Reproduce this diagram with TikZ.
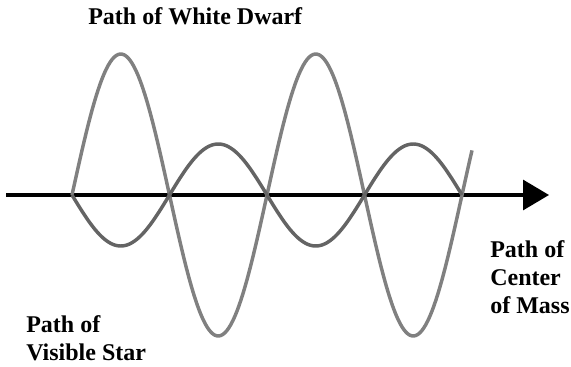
\documentclass[tikz,border=0pt]{standalone}
\usepackage{fontspec}
\setmainfont{Liberation Serif}
\usepackage{tikz}
\usetikzlibrary{arrows.meta}
\definecolor{dwarf}{RGB}{128,128,128}
\definecolor{vstar}{RGB}{100,100,100}

\begin{document}
\begin{tikzpicture}[x=0.75pt, y=-0.75pt,
  every node/.style={font=\fontsize{18}{21}\selectfont\bfseries, inner sep=0pt, align=left},
  wave/.style={line width=2.6pt, line join=round}]
  \useasboundingbox (0,0) rectangle (571,367);
  % centre of mass axis
  \coordinate (axstart) at (6,195);
  \coordinate (axend) at (549,195);
  \draw[line width=2.4pt, -{Triangle[length=19.5pt, width=22.5pt]}] (axstart) -- (axend);
  % white dwarf and visible star
  \draw[wave, color=dwarf] plot[domain=0:400, samples=200] ({\x+72}, {195 - 141*sin(\x*1.84615)});
  \draw[wave, color=vstar] plot[domain=0:390, samples=200] ({\x+72}, {195 + 51*sin(\x*1.84615)});
  % labels
  \node[anchor=base west] (wdlabel) at (88,25) {Path of White Dwarf};
  \node[anchor=base west] (cmlabel) at (490,313) {Path of\\Center\\of Mass};
  \node[anchor=base west] (vslabel) at (26,360) {Path of\\Visible Star};
\end{tikzpicture}
\end{document}
